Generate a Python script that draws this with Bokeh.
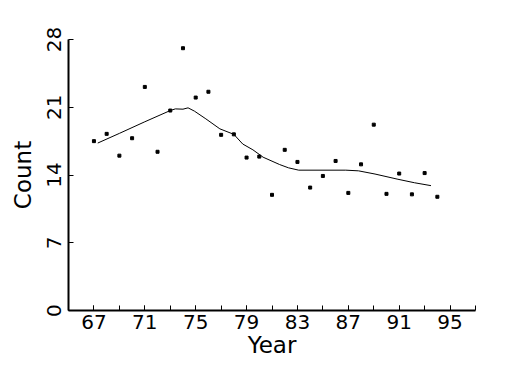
from bokeh.plotting import figure
from bokeh.models import Range1d, FixedTicker
from bokeh.embed import file_html
from bokeh.resources import INLINE

years = [67, 68, 69, 70, 71, 72, 73, 74, 75, 76, 77, 78, 79, 80,
         81, 82, 83, 84, 85, 86, 87, 88, 89, 90, 91, 92, 93, 94]
counts = [17.5, 18.25, 16.0, 17.8, 23.1, 16.4, 20.66, 27.1, 22.0, 22.6, 18.15, 18.2, 15.8, 15.9,
          11.95, 16.6, 15.35, 12.7, 13.9, 15.45, 12.15, 15.1, 19.2, 12.05, 14.15, 12.0, 14.2, 11.75]

smooth_x = [67.3, 69, 71, 73, 73.4, 74.0, 74.4, 74.9, 75.8, 76.9, 78, 78.7, 79.5, 80.3,
            81.6, 82.3, 83.1, 86.8, 87.8, 89.1, 90.9, 92.2, 93.5]
smooth_y = [17.3, 18.3, 19.5, 20.66, 20.83, 20.8, 20.94, 20.6, 19.8, 18.77, 18.2, 17.2, 16.6, 15.84,
            15.08, 14.74, 14.5, 14.5, 14.43, 14.1, 13.56, 13.2, 12.9]

x_major = [67, 71, 75, 79, 83, 87, 91, 95]
x_minor = [65, 67, 69, 71, 73, 75, 77, 79, 81, 83, 85, 87, 89, 91, 93, 95, 97]
y_major = [0, 7, 14, 21, 28]

FONT = "DejaVu Sans"

p = figure(width=509, height=365, output_backend="svg", toolbar_location=None,
           x_range=Range1d(65, 97), y_range=Range1d(0, 28),
           min_border_left=68, min_border_right=34, min_border_top=39, min_border_bottom=55)
p.outline_line_color = None
p.grid.visible = False
p.background_fill_color = "white"
p.border_fill_color = "white"

p.line(smooth_x, smooth_y, line_color="black", line_width=1)
p.scatter(years, counts, marker="square", size=3, color="black")

xa = p.xaxis[0]
xa.ticker = FixedTicker(ticks=x_major, minor_ticks=x_minor)
xa.axis_label = "Year"
ya = p.yaxis[0]
ya.ticker = FixedTicker(ticks=y_major, minor_ticks=[])
ya.axis_label = "Count"
ya.major_label_orientation = "vertical"

for ax in (xa, ya):
    ax.axis_line_width = 2
    ax.axis_line_color = "black"
    ax.major_tick_in = 5
    ax.major_tick_out = 0
    ax.minor_tick_in = 5
    ax.minor_tick_out = 0
    ax.major_tick_line_color = "black"
    ax.minor_tick_line_color = "black"
    ax.major_label_text_font = FONT
    ax.major_label_text_font_size = "20px"
    ax.major_label_text_color = "black"
    ax.axis_label_text_font = FONT
    ax.axis_label_text_font_size = "23px"
    ax.axis_label_text_font_style = "normal"
    ax.axis_label_text_color = "black"

xa.major_label_standoff = 4
xa.axis_label_standoff = 0
ya.major_label_standoff = 8
ya.axis_label_standoff = 8

open("out.html", "w").write(file_html(p, INLINE))
